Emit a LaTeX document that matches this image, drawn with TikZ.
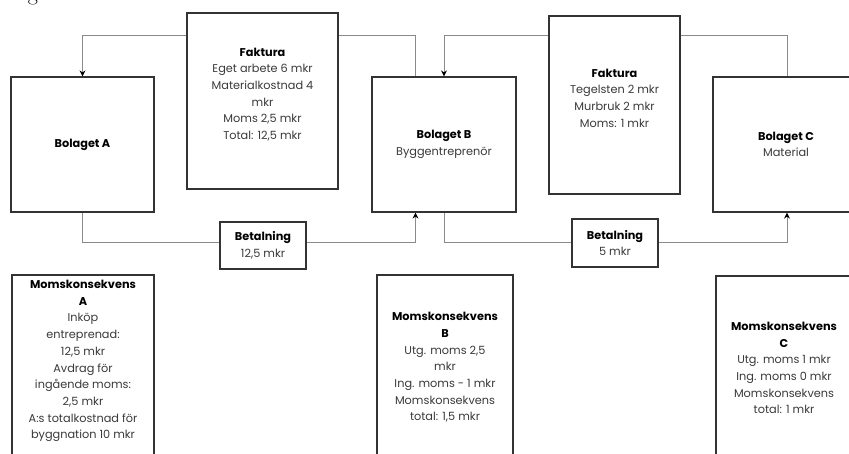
\documentclass[tikz,border=0pt]{standalone}
\usepackage{fontspec}
\newfontfamily\popfont{Poppins}
\usetikzlibrary{arrows.meta,calc}
\definecolor{txtgray}{HTML}{3A3A3A}
\definecolor{edgegray}{HTML}{333333}
\definecolor{conngray}{HTML}{8A8A8A}
\newcommand\diafont{\popfont\fontsize{11.3}{16.7}\selectfont}
\newcommand\hdr[1]{{\color{black}\bfseries #1}}
\begin{document}
\begin{tikzpicture}[x=1pt,y=-1pt,
  box/.style={draw=edgegray,line width=1.2pt,fill=white,inner sep=0pt,align=center,font=\diafont,text=txtgray},
  txtnode/.style={inner sep=0pt,align=center,font=\diafont,text=txtgray},
  conn/.style={draw=conngray,line width=0.9pt},
  arr/.style={-{Stealth[length=6pt,width=6pt,color=black]}}]
\useasboundingbox (0,0) rectangle (849,453);
% fragment of text above the picture
\node[anchor=base,inner sep=0pt,font=\fontsize{22}{22}\selectfont] (gfrag) at (33,0.6) {g};
% coordinates for connector levels
\coordinate (ytop) at (0,35);
\coordinate (ybot) at (0,242);
% main boxes
\node[box,minimum width=143,minimum height=135] (A) at (82.5,144.5) {\hdr{Bolaget A}};
\node[box,minimum width=144,minimum height=135] (B) at (444,144.5) {\hdr{Bolaget B}\\Byggentrepren\"or};
\node[box,minimum width=146,minimum height=135] (C) at (786,144.5) {\hdr{Bolaget C}\\Material};
% invoices
\node[box,minimum width=151,minimum height=176] (F1) at (262.5,101) {};
\node[txtnode] (F1t) at (262.5,94.5) {\hdr{Faktura}\\Eget arbete 6 mkr\\Materialkostnad 4\\mkr\\Moms 2,5 mkr\\Total: 12,5 mkr};
\node[box,minimum width=131,minimum height=178] (F2) at (614.5,105) {};
\node[txtnode] (F2t) at (614.5,98) {\hdr{Faktura}\\Tegelsten 2 mkr\\Murbruk 2 mkr\\Moms: 1 mkr};
% payments
\node[box,minimum width=86,minimum height=47] (P1) at (263,245.5) {\hdr{Betalning}\\12,5 mkr};
\node[box,minimum width=86,minimum height=48] (P2) at (615,243) {\hdr{Betalning}\\5 mkr};
% VAT consequences
\node[box,minimum width=142,minimum height=195] (MA) at (83,372.5) {};
\node[txtnode] (MAt) at (83,361) {\hdr{Momskonsekvens}\\\hdr{A}\\Ink\"op\\entreprenad:\\12,5 mkr\\Avdrag f\"or\\ing\aa ende moms:\\2,5 mkr\\A:s totalkostnad f\"or\\byggnation 10 mkr};
\node[box,minimum width=136,minimum height=195] (MB) at (445,372.5) {};
\node[txtnode] (MBt) at (445,367.5) {\hdr{Momskonsekvens}\\\hdr{B}\\Utg. moms 2,5\\mkr\\Ing. moms - 1 mkr\\Momskonsekvens\\total: 1,5 mkr};
\node[box,minimum width=136,minimum height=195] (MC) at (784,373.5) {};
\node[txtnode] (MCt) at (784,368) {\hdr{Momskonsekvens}\\\hdr{C}\\Utg. moms 1 mkr\\Ing. moms 0 mkr\\Momskonsekvens\\total: 1 mkr};
% invoice connectors
\draw[conn,arr] (F1.west |- ytop) -| (A.north);
\draw[conn] (F1.east |- ytop) -| ($(B.north)+(-28.5,0)$);
\draw[conn,arr] (F2.west |- ytop) -| (B.north);
\draw[conn] (F2.east |- ytop) -| ($(C.north)+(1,0)$);
% payment connectors
\draw[conn] (A.south) |- (P1.west |- ybot);
\draw[conn,arr] (P1.east |- ybot) -| ($(B.south)+(-28.5,0)$);
\draw[conn] (B.south) |- (P2.west |- ybot);
\draw[conn,arr] (P2.east |- ybot) -| ($(C.south)+(1,0)$);
\end{tikzpicture}
\end{document}
